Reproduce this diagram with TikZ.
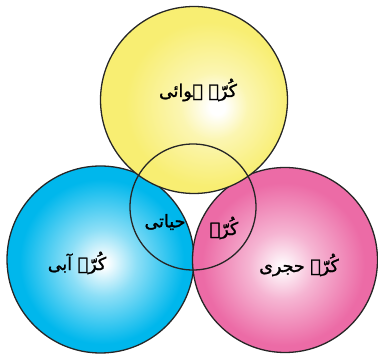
\documentclass[tikz,border=0pt]{standalone}
\usepackage{fontspec}
\TeXXeTstate=1
\newfontfamily\arabicfont[Script=Arabic, FakeBold=1.5]{DejaVu Sans}
\definecolor{yelc}{HTML}{F8EE72}
\definecolor{cyac}{HTML}{00B7EC}
\definecolor{pinc}{HTML}{EC6BA6}
\pgfdeclareradialshading{yshade}{\pgfpoint{6.5bp}{-2bp}}{color(0bp)=(white); color(2bp)=(white); color(9bp)=(yelc!55!white); color(22bp)=(yelc); color(50bp)=(yelc)}
\pgfdeclareradialshading{cshade}{\pgfpoint{0.7bp}{-1bp}}{color(0bp)=(white); color(1bp)=(white); color(9bp)=(cyac!45!white); color(22bp)=(cyac); color(50bp)=(cyac)}
\pgfdeclareradialshading{pshade}{\pgfpoint{-0.8bp}{-2bp}}{color(0bp)=(white!95!pinc); color(1bp)=(white!95!pinc); color(9bp)=(pinc!50!white); color(22bp)=(pinc); color(50bp)=(pinc)}
\tikzset{
  sphere/.style={draw=black!85, line width=1.3pt},
  lbl/.style={font=\arabicfont\fontsize{17.5}{20}\selectfont, inner sep=0pt, text=black}
}
\begin{document}
\begin{tikzpicture}[x=1pt,y=-1pt]
\useasboundingbox (0,0) rectangle (378,358);
\path[sphere, shading=cshade] (100.5,259.5) circle[radius=93.5];
\path[sphere, shading=pshade] (285,260) circle[radius=92.5];
\path[sphere, shading=yshade] (194,100) circle[radius=93.5];
\draw[sphere] (193,207) circle[radius=63];
\node[lbl] (air) at (198,90) {\beginR کُرّہ ہوائی\endR};
\node[lbl] (water) at (77,263) {\beginR کُرّہ آبی\endR};
\node[lbl] (rock) at (299,265) {\beginR کُرّہ حجری\endR};
\node[lbl] (life1) at (165,222) {\beginR حیاتی\endR};
\node[lbl] (life2) at (224,228) {\beginR کُرّہ\endR};
\end{tikzpicture}
\end{document}
